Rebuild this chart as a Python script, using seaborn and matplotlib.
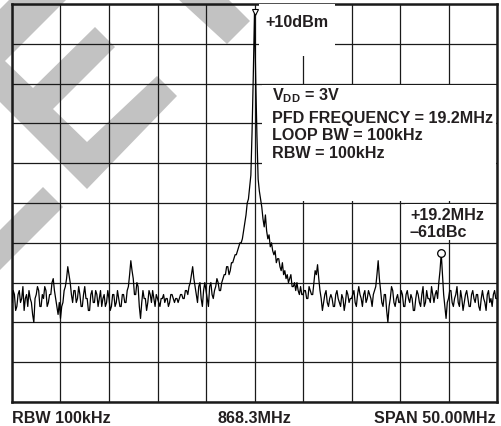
import numpy as np
import pandas as pd
import matplotlib
matplotlib.use("Agg")
import matplotlib.pyplot as plt
from matplotlib.patches import Polygon, Rectangle
import seaborn as sns

# spectrum analyzer settings
center_mhz = 868.3
span_mhz = 50.0
ref_dbm = 10
db_per_div = 10

# trace, dBm, one point every 0.125 MHz from -25 MHz to +25 MHz around centre
trace_dbm = [
    # -25 .. -20.125
    -65, -62, -63, -67, -66, -63, -62, -65, -64, -61, -67, -64, -63, -66, -62, -64, -65, -68, -70, -64,
    -63, -61, -62, -66, -66, -63, -64, -61, -62, -66, -65, -63, -63, -60, -59, -62, -64, -66, -68, -65,
    # -20 .. -15.125
    -69, -66, -65, -62, -61, -59, -56, -58, -60, -63, -65, -62, -62, -65, -64, -61, -63, -66, -66, -63,
    -61, -64, -64, -67, -67, -63, -62, -65, -65, -62, -63, -66, -64, -62, -66, -64, -63, -66, -65, -62,
    # -15 .. -10.125
    -64, -67, -66, -63, -63, -66, -65, -62, -64, -66, -66, -63, -63, -65, -65, -62, -61, -58, -54.5, -57,
    -59, -63, -63, -60, -61, -66, -69, -65, -62, -64, -64, -67, -65, -62, -63, -65, -62, -64, -66, -63,
    # -10 .. -5.125
    -64, -65, -66, -64, -64, -63, -65, -64, -64, -66, -65, -63, -63, -64, -65, -64, -64, -65, -64, -63,
    -63, -64, -64, -62, -62, -63, -61, -60, -58, -56, -59, -61, -63, -65, -61, -60, -64, -66, -62, -60,
    # -5 .. -0.125
    -62, -64, -66, -61, -60, -63, -64, -62, -61, -59, -60, -62, -62, -60, -59, -58, -58, -56, -56, -58,
    -57, -55, -55, -54, -53, -53, -52, -51, -50, -50, -49, -47, -45, -43, -40, -39, -36, -33, -22, -8,
    # 0 .. 4.875
    8, -9, -23, -34, -37, -39, -41, -44, -46, -43, -47, -49, -48, -51, -50, -52, -53, -52, -55, -54,
    -54, -56, -57, -55, -58, -57, -59, -58, -60, -59, -58, -61, -61, -60, -62, -60, -62, -63, -61, -63,
    # 5 .. 9.875
    -63, -62, -62, -64, -64, -61, -62, -63, -63, -60, -57, -58, -55.5, -59, -62, -64, -67, -65, -63, -62,
    -65, -66, -64, -63, -64, -66, -66, -63, -62, -64, -65, -66, -63, -64, -67, -65, -62, -63, -65, -64,
    # 10 .. 14.875
    -64, -63, -62, -65, -66, -63, -61, -63, -64, -66, -63, -62, -65, -64, -62, -63, -64, -66, -63, -62,
    -61, -58, -54.5, -59, -62, -65, -66, -63, -63, -67, -70, -66, -64, -61, -62, -65, -66, -64, -63, -65,
    # 15 .. 19.875
    -65, -62, -63, -66, -66, -63, -62, -64, -65, -63, -64, -67, -67, -64, -62, -63, -65, -66, -63, -61,
    -66, -65, -62, -64, -64, -65, -61, -63, -65, -63, -62, -64, -60, -57, -52.6, -58, -63, -66, -69, -65,
    # 20 .. 25
    -64, -62, -62, -65, -66, -64, -63, -61, -65, -66, -62, -64, -67, -65, -63, -62, -64, -66, -66, -63,
    -62, -64, -65, -63, -63, -66, -67, -64, -62, -64, -65, -67, -63, -62, -65, -64, -66, -63, -62, -64, -64,
]
carrier_offset = 0.0
spur_offset = 19.25

settings_lines = [r"$\mathbf{V_{DD}}$ = 3V", "PFD FREQUENCY = 19.2MHz",
                  "LOOP BW = 100kHz", "RBW = 100kHz"]
ref_label = "+10dBm"
spur_label = ["+19.2MHz", "\u201361dBc"]
footer = ["RBW 100kHz", "868.3MHz", "SPAN 50.00MHz"]

# watermark shapes behind the graticule (figure pixels)
watermark = [
    [(10, 0), (67, 0), (5, 62), (33, 89), (95, 28), (115, 48), (53, 110), (87, 143),
     (157, 77), (177, 97), (87, 190), (0, 103), (0, 10)],
    [(178, 0), (228, 0), (250, 22), (227, 45)],
    [(43, 188), (63, 208), (0, 271), (0, 231)],
]

sns.set_style("white")
plt.rcParams['font.family'] = ['Liberation Sans', 'DejaVu Sans']
plt.rcParams['mathtext.fontset'] = 'custom'
plt.rcParams['mathtext.bf'] = 'Liberation Sans:bold'
plt.rcParams['mathtext.rm'] = 'Liberation Sans'
txt = '#231f20'

freq = np.linspace(-span_mhz / 2, span_mhz / 2, len(trace_dbm))
df = pd.DataFrame({'offset': freq, 'dbm': trace_dbm})

fig = plt.figure(figsize=(5.01, 4.27), dpi=100)
bg = fig.add_axes([0, 0, 1, 1])
bg.set_xlim(0, 501)
bg.set_ylim(427, 0)
bg.axis('off')
for shape in watermark:
    bg.add_patch(Polygon(shape, closed=True, fc='#c2c2c2', ec='none'))

ax = fig.add_axes([12 / 501, 24 / 427, 485 / 501, 398 / 427])
ax.set_zorder(2)
ax.set_facecolor('none')

sns.lineplot(data=df, x='offset', y='dbm', ax=ax, color='black', lw=0.9, zorder=4)

ax.set_xlim(-span_mhz / 2, span_mhz / 2)
ax.set_ylim(ref_dbm - 10 * db_per_div, ref_dbm)
ax.set_xticks(np.arange(-span_mhz / 2, span_mhz / 2 + 1, span_mhz / 10))
ax.set_yticks(np.arange(ref_dbm - 10 * db_per_div, ref_dbm + 1, db_per_div))
ax.tick_params(length=0, labelbottom=False, labelleft=False)
ax.grid(True, color='#1a1a1a', lw=0.9, zorder=1)
ax.set_axisbelow(True)
ax.set_xlabel('')
ax.set_ylabel('')
for s in ax.spines.values():
    s.set_linewidth(1.8)
    s.set_color('#1a1a1a')

# markers
pk = df.loc[(df['offset'] - carrier_offset).abs().idxmin(), 'dbm']
sp = df.loc[(df['offset'] - spur_offset).abs().idxmin(), 'dbm']
ax.plot([carrier_offset], [pk], marker='v', ms=5, mfc='white', mec='black', mew=0.8, zorder=6)
ax.plot([spur_offset], [sp], marker='o', ms=5.5, mfc='white', mec='black', mew=0.9, zorder=6)

# white boxes behind annotations
ax.add_patch(Rectangle((0.45, -3.0), 7.9, 13, fc='white', ec='none', zorder=3))
ax.add_patch(Rectangle((0.8, -39.6), 24.1, 29.2, fc='white', ec='none', zorder=3))
ax.add_patch(Rectangle((15.5, -49.4), 8.8, 9.2, fc='white', ec='none', zorder=3))

fs = 11.6
ax.text(1.08, 4.47, ref_label, fontsize=fs, fontweight='bold', color=txt, va='baseline', zorder=7)
for line, y in zip(settings_lines, [-13.87, -19.72, -23.92, -28.52]):
    ax.text(1.8, y, line, fontsize=fs, fontweight='bold', color=txt, va='baseline', zorder=7)
ax.text(16.03, -44.0, spur_label[0], fontsize=fs, fontweight='bold', color=txt, va='baseline', zorder=7)
ax.text(16.03, -48.3, spur_label[1], fontsize=fs, fontweight='bold', color=txt, va='baseline', zorder=7)

fy = 1 - 423 / 427
fig.text(12 / 501, fy, footer[0], fontsize=fs, fontweight='bold', color=txt, ha='left', va='baseline')
fig.text(254.5 / 501, fy, footer[1], fontsize=fs, fontweight='bold', color=txt, ha='center', va='baseline')
fig.text(496 / 501, fy, footer[2], fontsize=fs, fontweight='bold', color=txt, ha='right', va='baseline')

fig.savefig('out.png', dpi=100)
